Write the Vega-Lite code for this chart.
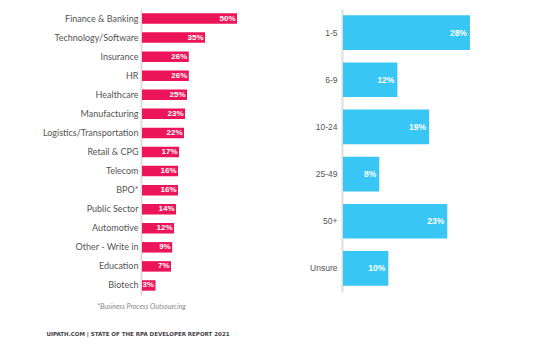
{
  "$schema": "https://vega.github.io/schema/vega-lite/v6.json",
  "autosize": {"type": "none"},
  "padding": {"left": 142, "top": 9, "right": 412, "bottom": 336},
  "background": "white",
  "title": {
    "text": "UIPATH.COM  |  STATE OF THE RPA DEVELOPER REPORT 2021",
    "orient": "bottom",
    "anchor": "start",
    "dx": 4,
    "offset": 23,
    "font": "DejaVu Sans",
    "fontWeight": "bold",
    "fontSize": 5.5,
    "color": "#444444"
  },
  "config": {
    "view": {"stroke": null},
    "concat": {"spacing": 101},
    "axis": {"ticks": false, "grid": false, "domainColor": "#dddddd", "domainWidth": 2, "labelColor": "#555555"}
  },
  "bounds": "flush",
  "hconcat": [
    {
      "width": 100,
      "height": 286,
      "data": {"values": [
        {"industry": "Finance & Banking", "share": 0.50},
        {"industry": "Technology/Software", "share": 0.35},
        {"industry": "Insurance", "share": 0.26},
        {"industry": "HR", "share": 0.26},
        {"industry": "Healthcare", "share": 0.25},
        {"industry": "Manufacturing", "share": 0.23},
        {"industry": "Logistics/Transportation", "share": 0.22},
        {"industry": "Retail & CPG", "share": 0.17},
        {"industry": "Telecom", "share": 0.16},
        {"industry": "BPO*", "share": 0.16},
        {"industry": "Public Sector", "share": 0.14},
        {"industry": "Automotive", "share": 0.12},
        {"industry": "Other - Write in", "share": 0.09},
        {"industry": "Education", "share": 0.07},
        {"industry": "Biotech", "share": 0.03}
      ]},
      "encoding": {
        "y": {"field": "industry", "type": "nominal", "sort": null,
              "scale": {"paddingInner": 0.45, "paddingOuter": 0.225},
              "axis": {"title": null, "offset": 1, "labelPadding": 3, "labelFont": "Lato", "labelFontSize": 9, "labelLimit": 200}},
        "x": {"field": "share", "type": "quantitative",
              "scale": {"domain": [0, 0.03, 0.07, 0.12, 0.17, 0.25, 0.35, 0.50], "range": [0, 13.5, 29, 32, 37, 45, 63, 95]},
              "axis": {"domain": false, "labels": false, "title": "*Business Process Outsourcing",
                       "titleFont": "Lato", "titleFontStyle": "italic", "titleFontWeight": "normal", "titleFontSize": 7,
                       "titleColor": "#888888", "titleX": -1, "titleY": 11, "titleAlign": "center", "titleBaseline": "middle"}}
      },
      "layer": [
        {"mark": {"type": "bar", "color": "#ED1559"}},
        {"mark": {"type": "text", "align": "right", "baseline": "middle", "dx": -1.5, "color": "white",
                  "font": "Liberation Sans", "fontWeight": "bold", "fontSize": 8},
         "encoding": {"text": {"field": "share", "type": "quantitative", "format": ".0%"}}}
      ]
    },
    {
      "width": 136,
      "height": 283,
      "data": {"values": [
        {"size": "1-5", "share": 0.28},
        {"size": "6-9", "share": 0.12},
        {"size": "10-24", "share": 0.19},
        {"size": "25-49", "share": 0.08},
        {"size": "50+", "share": 0.23},
        {"size": "Unsure", "share": 0.10}
      ]},
      "encoding": {
        "y": {"field": "size", "type": "nominal", "sort": null,
              "scale": {"paddingInner": 0.265, "paddingOuter": 0.1325},
              "axis": {"title": null, "offset": 1, "labelPadding": 5, "labelFont": "Liberation Sans", "labelFontSize": 8.5}},
        "x": {"field": "share", "type": "quantitative", "scale": {"domain": [0, 0.30]}, "axis": null}
      },
      "layer": [
        {"mark": {"type": "bar", "color": "#38C6F4"}},
        {"mark": {"type": "text", "align": "right", "baseline": "middle", "dx": -3, "color": "white",
                  "font": "Liberation Sans", "fontWeight": "bold", "fontSize": 8.5},
         "encoding": {"text": {"field": "share", "type": "quantitative", "format": ".0%"}}}
      ]
    }
  ]
}
